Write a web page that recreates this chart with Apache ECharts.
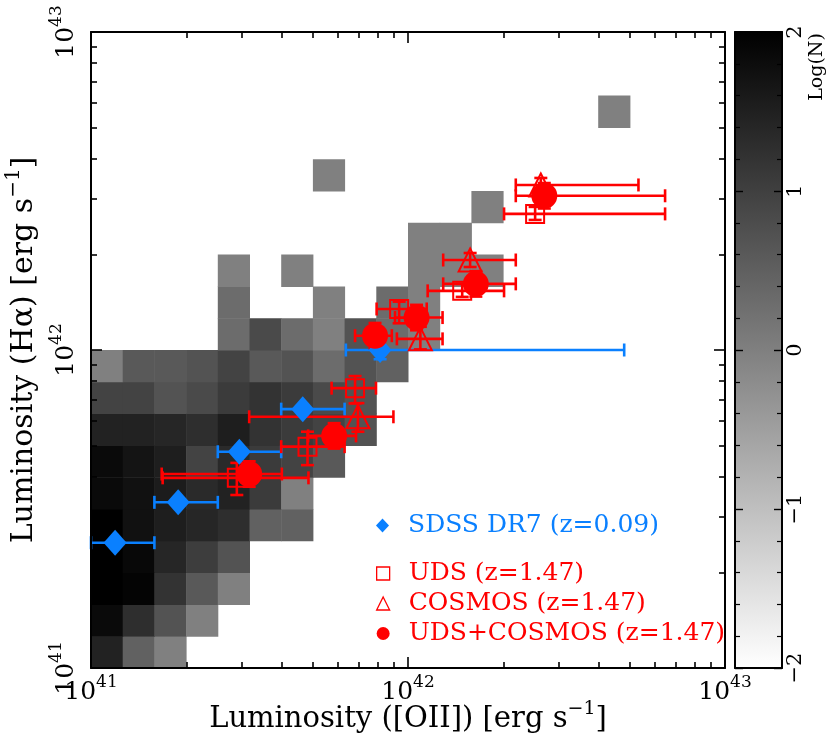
<!DOCTYPE html>
<html>
<head>
<meta charset="utf-8">
<title>L(Halpha) vs L([OII])</title>
<script src="https://cdn.jsdelivr.net/npm/echarts@6.0.0/dist/echarts.min.js"></script>
<style>
  html, body { margin: 0; padding: 0; background: #fff; }
  #chart { width: 830px; height: 738px; }
</style>
</head>
<body>
<div id="chart"></div>
<script>
// every luminosity below is log10(L / erg s^-1)

// --- local sample, 2D histogram (0.1 dex bins, row = L(Ha) bin, column = L([OII]) bin) ---
const binSize = 0.1;
const binX0 = 41.0;
const binY0 = 41.0;
const histCounts = [
  [ 29,  3,  1],
  [ 70, 19,  5,  1],
  [120, 85, 16,  4,  1],
  [120, 75, 25, 11,  5],
  [120, 54, 34, 25, 19,  3,  3],
  [ 70, 54, 36, 22, 29, 12,  1],
  [ 70, 49, 34,  9, 22, 12,  9,  4],
  [ 29, 29, 25, 19, 34, 16, 12,  9,  5],
  [  9,  9,  5,  7, 12, 16, 12,  7,  5],
  [  1,  4,  4,  5,  9,  4,  5,  2,  5,  3],
  [  0,  0,  0,  0,  2,  7,  2,  1,  5,  2,  1],
  [  0,  0,  0,  0,  2,  0,  0,  1,  0,  2,  1],
  [  0,  0,  0,  0,  1,  0,  1,  0,  0,  0,  1,  1,  1],
  [  0,  0,  0,  0,  0,  0,  0,  0,  0,  0,  1,  1],
  [  0,  0,  0,  0,  0,  0,  0,  0,  0,  0,  0,  0,  1],
  [  0,  0,  0,  0,  0,  0,  0,  1],
  [],
  [  0,  0,  0,  0,  0,  0,  0,  0,  0,  0,  0,  0,  0,  0,  0,  0,  1]
];

// --- SDSS DR7 (z=0.09) ---
const sdssX   = [41.076, 41.275, 41.468, 41.668, 41.912];
const sdssY   = [41.394, 41.521, 41.680, 41.814, 42.000];
const sdssXlo = [41.000, 41.200, 41.400, 41.600, 41.804];
const sdssXhi = [41.200, 41.400, 41.600, 41.800, 42.682];
const sdssYlo = [41.394, 41.521, 41.680, 41.814, 41.971];
const sdssYhi = [41.394, 41.521, 41.680, 41.814, 42.029];

// --- UDS (z=1.47) ---
const udsX   = [41.460, 41.683, 41.833, 41.972, 42.171, 42.401];
const udsY   = [41.598, 41.696, 41.880, 42.129, 42.186, 42.428];
const udsXlo = [41.226, 41.600, 41.759, 41.901, 42.062, 42.303];
const udsXhi = [41.686, 41.800, 41.899, 42.059, 42.303, 42.811];
const udsYlo = [41.544, 41.638, 41.832, 42.084, 42.167, 42.409];
const udsYhi = [41.645, 41.743, 41.918, 42.152, 42.208, 42.450];

// --- COSMOS (z=1.47) ---
const cosX   = [41.842, 42.039, 42.196, 42.419];
const cosY   = [41.790, 42.035, 42.283, 42.519];
const cosXlo = [41.499, 41.965, 42.111, 42.340];
const cosXhi = [41.954, 42.109, 42.340, 42.727];
const cosYlo = [41.743, 42.002, 42.261, 42.497];
const cosYhi = [41.833, 42.073, 42.305, 42.541];

// --- UDS+COSMOS (z=1.47) ---
const allX   = [41.499, 41.767, 41.896, 42.027, 42.214, 42.430];
const allY   = [41.610, 41.730, 42.045, 42.102, 42.208, 42.485];
const allXlo = [41.223, 41.685, 41.833, 41.959, 42.111, 42.340];
const allXhi = [41.602, 41.836, 41.949, 42.109, 42.340, 42.811];
const allYlo = [41.570, 41.690, 42.005, 42.062, 42.168, 42.445];
const allYhi = [41.650, 41.770, 42.085, 42.142, 42.248, 42.525];

// axis ticks (log units) and colour bar labels (log N)
const majorTicks = [41, 42, 43];
const minorTicks = [];
[41, 42].forEach(d => { for (let k = 2; k <= 9; k++) minorTicks.push(d + Math.log10(k)); });
const cbarLabels = [-2, -1, 0, 1, 2];

const RED = '#ff0000';
const BLUE = '#0a80ff';
const FONT = 'DejaVu Serif';

// ---------------------------------------------------------------------------
const heatData = [];
histCounts.forEach((row, j) => {
  row.forEach((n, i) => {
    if (n > 0) heatData.push([binX0 + i * binSize, binY0 + j * binSize, Math.log10(n)]);
  });
});

function zipErr(x, y, xlo, xhi, ylo, yhi) {
  return x.map((v, i) => [v, y[i], xlo[i], xhi[i], ylo[i], yhi[i]]);
}

function renderCell(params, api) {
  const x = api.value(0), y = api.value(1);
  const p0 = api.coord([x, y]);
  const p1 = api.coord([x + binSize, y + binSize]);
  return {
    type: 'rect',
    shape: { x: p0[0], y: p1[1], width: p1[0] - p0[0] + 0.5, height: p0[1] - p1[1] + 0.5 },
    style: { fill: api.visual('color') }
  };
}

// horizontal + vertical error bars with end caps
function errorBars(color) {
  const cap = 6.5;
  return function (params, api) {
    const y = api.value(1);
    const xlo = api.value(2), xhi = api.value(3), ylo = api.value(4), yhi = api.value(5);
    const style = { stroke: color, lineWidth: 2.6, fill: null };
    const a = api.coord([xlo, y]), b = api.coord([xhi, y]);
    const kids = [
      { type: 'line', shape: { x1: a[0], y1: a[1], x2: b[0], y2: b[1] }, style },
      { type: 'line', shape: { x1: a[0], y1: a[1] - cap, x2: a[0], y2: a[1] + cap }, style },
      { type: 'line', shape: { x1: b[0], y1: b[1] - cap, x2: b[0], y2: b[1] + cap }, style }
    ];
    if (yhi > ylo) {
      const x = api.value(0);
      const c = api.coord([x, ylo]), d = api.coord([x, yhi]);
      kids.push(
        { type: 'line', shape: { x1: c[0], y1: c[1], x2: d[0], y2: d[1] }, style },
        { type: 'line', shape: { x1: c[0] - cap, y1: c[1], x2: c[0] + cap, y2: c[1] }, style },
        { type: 'line', shape: { x1: d[0] - cap, y1: d[1], x2: d[0] + cap, y2: d[1] }, style }
      );
    }
    return { type: 'group', children: kids };
  };
}

function renderCbar(params, api) {
  const p0 = api.coord([api.value(0), api.value(1)]);
  const p1 = api.coord([api.value(2), api.value(3)]);
  return {
    type: 'rect',
    shape: { x: p0[0], y: p1[1], width: p1[0] - p0[0], height: p0[1] - p1[1] },
    style: {
      fill: new echarts.graphic.LinearGradient(0, 0, 0, 1, [
        { offset: 0, color: '#000000' }, { offset: 1, color: '#ffffff' }
      ])
    }
  };
}

// colour bar tick labels, rotated like the rest of the vertical text
function renderCbarLabel(params, api) {
  const v = api.value(1);
  const p = api.coord([1, v]);
  return {
    type: 'text', x: p[0] + 14, y: p[1], rotation: Math.PI / 2,
    style: {
      text: v < 0 ? '−' + Math.abs(v) : String(v),
      fontFamily: FONT, fontSize: 21, fill: '#000', align: 'center', verticalAlign: 'middle'
    }
  };
}

const powRich = {
  b: { fontFamily: FONT, fontSize: 25, color: '#000', lineHeight: 25, verticalAlign: 'bottom' },
  s: { fontFamily: FONT, fontSize: 17, color: '#000', padding: [0, 0, 14, 0], verticalAlign: 'top' }
};
function titleRich(size) {
  return {
    t: { fontFamily: FONT, fontSize: size, color: '#000', lineHeight: size, verticalAlign: 'bottom' },
    s: { fontFamily: FONT, fontSize: Math.round(size * 0.66), color: '#000', padding: [0, 0, 15, 0], verticalAlign: 'top' }
  };
}
const black = { color: '#000', width: 2 };

function frameAxis(pos, ticks, len, opts) {
  return Object.assign({
    type: 'value', min: 41, max: 43, position: pos, z: 10,
    axisLine: { show: false, onZero: false },
    axisTick: { show: true, inside: true, length: len, customValues: ticks, lineStyle: { color: '#000', width: 1.6 } },
    axisLabel: { show: false },
    splitLine: { show: false }
  }, opts || {});
}

const cbarY = pos => ({
  gridIndex: 1, type: 'value', min: -2, max: 2, interval: 1, position: pos, z: 10,
  axisLine: { onZero: false, lineStyle: black },
  axisTick: { inside: true, length: 8, lineStyle: { color: '#000', width: 1.4 } },
  minorTick: { show: true, splitNumber: 5, length: 5, lineStyle: { color: '#000', width: 1.2 } },
  axisLabel: { show: false },
  splitLine: { show: false }
});
const cbarX = pos => ({
  gridIndex: 1, type: 'value', min: 0, max: 1, position: pos, z: 10,
  axisLine: { onZero: false, lineStyle: black },
  axisTick: { show: false }, axisLabel: { show: false }, splitLine: { show: false }
});

const option = {
  animation: false,
  backgroundColor: '#fff',
  grid: [
    { left: 91, top: 32, width: 634, height: 636, containLabel: false, outerBoundsMode: 'none' },
    { left: 735, top: 32, width: 47, height: 636, containLabel: false, outerBoundsMode: 'none' }
  ],
  visualMap: {
    type: 'continuous', show: false, min: -2, max: 2, dimension: 2, seriesIndex: 0,
    inRange: { color: ['#ffffff', '#000000'] }
  },
  legend: [
    {
      selectedMode: false, left: 371, top: 508, itemWidth: 13, itemHeight: 14,
      data: [{ name: 'SDSS DR7 (z=0.09)', icon: 'diamond', itemStyle: { color: BLUE, borderWidth: 0 } }],
      textStyle: { color: BLUE, fontFamily: FONT, fontSize: 25, padding: [0, 0, 0, 14] }
    },
    {
      selectedMode: false, orient: 'vertical', left: 371, top: 556, itemGap: 5, itemWidth: 13, itemHeight: 13,
      data: [
        { name: 'UDS (z=1.47)', icon: 'rect', itemStyle: { color: 'rgba(0,0,0,0)', borderColor: RED, borderWidth: 1.3 } },
        { name: 'COSMOS (z=1.47)', icon: 'triangle', itemStyle: { color: 'rgba(0,0,0,0)', borderColor: RED, borderWidth: 1.3 } },
        { name: 'UDS+COSMOS (z=1.47)', icon: 'circle', itemStyle: { color: RED, borderWidth: 0 } }
      ],
      textStyle: { color: RED, fontFamily: FONT, fontSize: 25, padding: [0, 0, 0, 14] }
    }
  ],
  xAxis: [
    frameAxis('bottom', majorTicks, 11, {
      axisLine: { show: true, onZero: false, lineStyle: black },
      axisLabel: { show: true, customValues: majorTicks, margin: 6, formatter: v => '{b|10}{s|' + v + '}', rich: powRich },
      name: '{t|Luminosity ([OII]) [erg s}{s|−1}{t|]}',
      nameLocation: 'middle', nameGap: 32, nameMoveOverlap: false, nameTextStyle: { rich: titleRich(29) }
    }),
    frameAxis('bottom', minorTicks, 6),
    frameAxis('top', majorTicks, 11, { axisLine: { show: true, onZero: false, lineStyle: black } }),
    frameAxis('top', minorTicks, 6),
    cbarX('bottom'),
    cbarX('top')
  ],
  yAxis: [
    frameAxis('left', majorTicks, 11, {
      axisLine: { show: true, onZero: false, lineStyle: black },
      axisLabel: { show: true, customValues: majorTicks, rotate: 90, margin: 12, formatter: v => '{b|10}{s|' + v + '}', rich: powRich },
      name: '{t|Luminosity (Hα) [erg s}{s|−1}{t|]}',
      nameLocation: 'middle', nameGap: 52, nameMoveOverlap: false, nameTextStyle: { rich: titleRich(30) }
    }),
    frameAxis('left', minorTicks, 6),
    frameAxis('right', majorTicks, 11, { axisLine: { show: true, onZero: false, lineStyle: black } }),
    frameAxis('right', minorTicks, 6),
    cbarY('left'),
    cbarY('right')
  ],
  graphic: [
    { type: 'text', x: 817, y: 67, rotation: Math.PI / 2,
      style: { text: 'Log(N)', fontFamily: FONT, fontSize: 19, fill: '#000', align: 'center', verticalAlign: 'middle' } }
  ],
  series: [
    { type: 'custom', name: 'hist', xAxisIndex: 0, yAxisIndex: 0, renderItem: renderCell, data: heatData, silent: true },
    { type: 'custom', name: 'cbar', xAxisIndex: 4, yAxisIndex: 4, renderItem: renderCbar, data: [[0, -2, 1, 2]], silent: true },
    { type: 'custom', name: 'cbarLabels', xAxisIndex: 4, yAxisIndex: 4, renderItem: renderCbarLabel,
      data: cbarLabels.map(v => [1, v]), silent: true, clip: false },

    { type: 'custom', name: 'sdssErr', xAxisIndex: 0, yAxisIndex: 0, renderItem: errorBars(BLUE),
      data: zipErr(sdssX, sdssY, sdssXlo, sdssXhi, sdssYlo, sdssYhi) },
    { type: 'scatter', name: 'SDSS DR7 (z=0.09)', xAxisIndex: 0, yAxisIndex: 0, symbol: 'diamond', symbolSize: [23, 26],
      itemStyle: { color: BLUE, opacity: 1 }, data: sdssX.map((v, i) => [v, sdssY[i]]) },

    { type: 'custom', name: 'udsErr', xAxisIndex: 0, yAxisIndex: 0, renderItem: errorBars(RED),
      data: zipErr(udsX, udsY, udsXlo, udsXhi, udsYlo, udsYhi) },
    { type: 'scatter', name: 'UDS (z=1.47)', xAxisIndex: 0, yAxisIndex: 0, symbol: 'rect', symbolSize: 18,
      itemStyle: { color: 'rgba(0,0,0,0)', borderColor: RED, borderWidth: 2, opacity: 1 },
      data: udsX.map((v, i) => [v, udsY[i]]) },

    { type: 'custom', name: 'cosErr', xAxisIndex: 0, yAxisIndex: 0, renderItem: errorBars(RED),
      data: zipErr(cosX, cosY, cosXlo, cosXhi, cosYlo, cosYhi) },
    { type: 'scatter', name: 'COSMOS (z=1.47)', xAxisIndex: 0, yAxisIndex: 0, symbol: 'triangle', symbolSize: 23,
      itemStyle: { color: 'rgba(0,0,0,0)', borderColor: RED, borderWidth: 2, opacity: 1 },
      data: cosX.map((v, i) => [v, cosY[i]]) },

    { type: 'custom', name: 'allErr', xAxisIndex: 0, yAxisIndex: 0, renderItem: errorBars(RED),
      data: zipErr(allX, allY, allXlo, allXhi, allYlo, allYhi) },
    { type: 'scatter', name: 'UDS+COSMOS (z=1.47)', xAxisIndex: 0, yAxisIndex: 0, symbol: 'circle', symbolSize: 26,
      itemStyle: { color: RED, opacity: 1 }, data: allX.map((v, i) => [v, allY[i]]) }
  ]
};

const chart = echarts.init(document.getElementById('chart'));
chart.setOption(option);
window.addEventListener('resize', () => chart.resize());
</script>
</body>
</html>
